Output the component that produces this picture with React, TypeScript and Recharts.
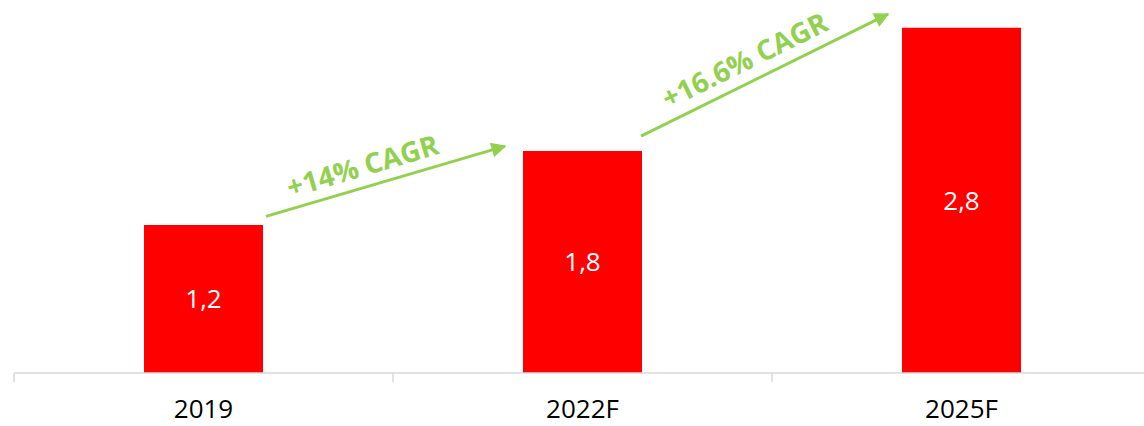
import { BarChart, Bar, XAxis, YAxis, LabelList, Customized } from 'recharts';

const years = ['2019', '2022F', '2025F'];
const values = [1.2, 1.8, 2.8];
const valueLabels = ['1,2', '1,8', '2,8'];
const cagrLabels = ['+14% CAGR', '+16.6% CAGR'];

const data = years.map((year, i) => ({ year, value: values[i], label: valueLabels[i] }));

// layout
const W = 1152;
const H = 426;
const M = { top: 3, right: 1, left: 14, bottom: 0 };
const AXIS_H = 53;
const Y_MAX = 3;
const plotW = W - M.left - M.right;
const plotH = H - M.top - M.bottom - AXIS_H;
const band = plotW / years.length;
const barW = 119;
const GREEN = '#92D050';
const FONT = '"Open Sans", sans-serif';

const xOf = (i: number) => M.left + band * (i + 0.5);
const yOf = (v: number) => M.top + plotH - (v / Y_MAX) * plotH;

// arrows between bars: start/end heights in data units, offsets from bar edges
const arrowSpec = [
  { from: 0, to: 1, v0: 1.27, v1: 1.84, gap0: 3, gap1: 18, textOff: 22, shift: -17 },
  { from: 1, to: 2, v0: 1.92, v1: 2.91, gap0: -1, gap1: 14, textOff: 23, shift: -10 },
];

const Overlay = () => {
  const baseY = yOf(0);
  return (
    <g>
      <defs>
        <marker id="head" viewBox="0 0 10 10" refX="9" refY="5" markerWidth="6" markerHeight="5" orient="auto" markerUnits="strokeWidth">
          <path d="M0,0 L10,5 L0,10 z" fill={GREEN} />
        </marker>
      </defs>
      {[0, 1, 2, 3].map((i) => (
        <line key={i} x1={M.left + band * i} x2={M.left + band * i} y1={baseY} y2={baseY + 9} stroke="#d9d9d9" strokeWidth={1.5} />
      ))}
      {arrowSpec.map((a, k) => {
        const x0 = xOf(a.from) + barW / 2 + a.gap0;
        const x1 = xOf(a.to) - barW / 2 - a.gap1;
        const y0 = yOf(a.v0);
        const y1 = yOf(a.v1);
        const ang = (Math.atan2(y1 - y0, x1 - x0) * 180) / Math.PI;
        const rad = (ang * Math.PI) / 180;
        const mx = (x0 + x1) / 2 + a.shift;
        const my = (y0 + y1) / 2 + Math.tan(rad) * a.shift;
        const tx = mx + Math.sin(rad) * a.textOff;
        const ty = my - Math.cos(rad) * a.textOff;
        return (
          <g key={k}>
            <line x1={x0} y1={y0} x2={x1} y2={y1} stroke={GREEN} strokeWidth={3} markerEnd="url(#head)" />
            <text
              x={tx}
              y={ty}
              transform={`rotate(${ang} ${tx} ${ty})`}
              textAnchor="middle"
              dominantBaseline="central"
              fill={GREEN}
              fontFamily={FONT}
              fontWeight={700}
              fontSize={28}
            >
              {cagrLabels[k]}
            </text>
          </g>
        );
      })}
    </g>
  );
};

export default function App() {
  return (
    <div style={{ position: 'absolute', left: 0, top: 0, width: 1144, height: H, overflow: 'hidden', background: '#fff' }}>
      <BarChart width={W} height={H} data={data} margin={M} barSize={barW}>
        <XAxis
          dataKey="year"
          height={AXIS_H}
          axisLine={{ stroke: '#d9d9d9', strokeWidth: 1.5 }}
          tickLine={false}
          tickSize={0}
          tickMargin={27}
          tick={{ fill: '#000', fontSize: 26, fontFamily: FONT }}
          interval={0}
        />
        <YAxis hide domain={[0, Y_MAX]} />
        <Bar dataKey="value" fill="#FF0000" isAnimationActive={false}>
          <LabelList dataKey="label" position="center" fill="#fff" fontSize={26} fontFamily={FONT} />
        </Bar>
        <Customized component={Overlay} />
      </BarChart>
    </div>
  );
}
